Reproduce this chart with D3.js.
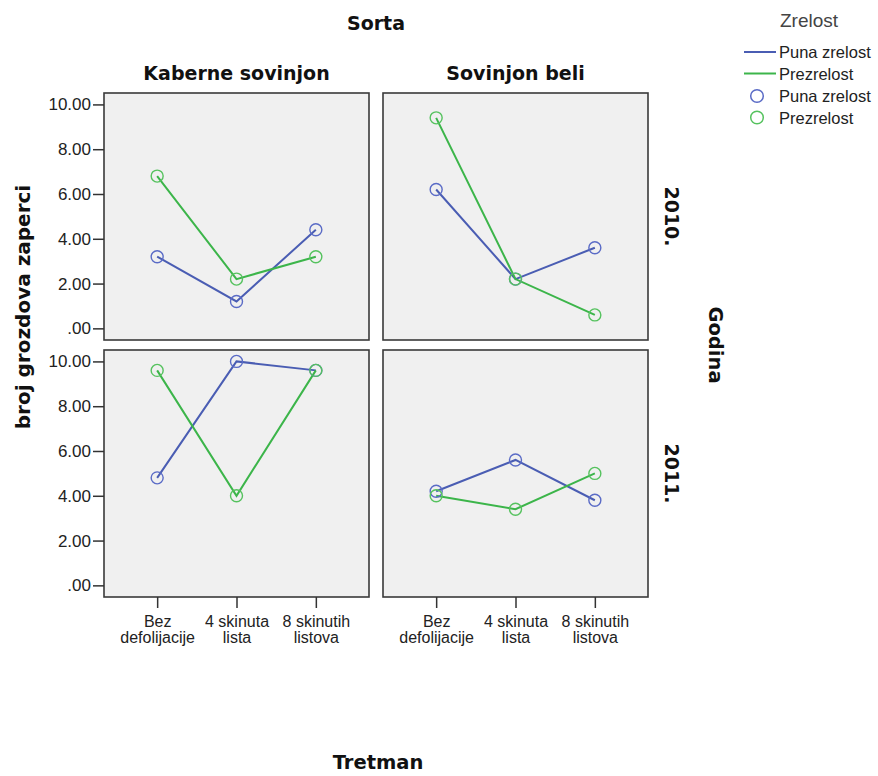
<!DOCTYPE html>
<html>
<head>
<meta charset="utf-8">
<script src="https://cdn.jsdelivr.net/npm/d3@7"></script>
<style>
  html, body { margin: 0; padding: 0; background: #ffffff; }
  svg { display: block; }
</style>
</head>
<body>
<svg id="chart" width="878" height="776"></svg>
<script>
// Treatments on the x axis, wrapped onto two lines
const treatments = ["Bez defolijacije", "4 skinuta lista", "8 skinutih listova"];
const treatmentLines = [["Bez", "defolijacije"], ["4 skinuta", "lista"], ["8 skinutih", "listova"]];
const varieties = ["Kaberne sovinjon", "Sovinjon beli"];
const years = ["2010.", "2011."];
const maturity = ["Puna zrelost", "Prezrelost"];
const yTicks = [0, 2, 4, 6, 8, 10];

// broj grozdova zaperci, per variety / year / maturity
const kabernePuna2010 = [3.2, 1.2, 4.4];
const kabernePrezrelost2010 = [6.8, 2.2, 3.2];
const sovinjonPuna2010 = [6.2, 2.2, 3.6];
const sovinjonPrezrelost2010 = [9.4, 2.2, 0.6];
const kabernePuna2011 = [4.8, 10.0, 9.6];
const kabernePrezrelost2011 = [9.6, 4.0, 9.6];
const sovinjonPuna2011 = [4.2, 5.6, 3.8];
const sovinjonPrezrelost2011 = [4.0, 3.4, 5.0];

const panels = [
  { row: 0, col: 0, series: [kabernePuna2010, kabernePrezrelost2010] },
  { row: 0, col: 1, series: [sovinjonPuna2010, sovinjonPrezrelost2010] },
  { row: 1, col: 0, series: [kabernePuna2011, kabernePrezrelost2011] },
  { row: 1, col: 1, series: [sovinjonPuna2011, sovinjonPrezrelost2011] }
];

const lineColors = ["#4a5db3", "#3cb54a"];
const markerColors = ["#5a6bc6", "#55c25e"];

const titleFont = "'DejaVu Sans', sans-serif";
const labelFont = "'Liberation Sans', Arial, sans-serif";

const svg = d3.select("#chart");

const panelX = [104, 383];
const panelY = [93, 350];
const panelW = 265;
const panelH = 247;

const x = d3.scalePoint().domain(treatments).range([0, panelW]).padding(0.67);
const y = d3.scaleLinear().domain([-0.52, 10.51]).range([panelH, 0]);

const line = d3.line()
  .x((d, i) => x(treatments[i]))
  .y(d => y(d));

panels.forEach(p => {
  const g = svg.append("g")
    .attr("transform", `translate(${panelX[p.col]},${panelY[p.row]})`);

  g.append("rect")
    .attr("x", 0).attr("y", 0)
    .attr("width", panelW).attr("height", panelH)
    .attr("fill", "#f0f0f0")
    .attr("stroke", "#3a3a3a")
    .attr("stroke-width", 1.6);

  p.series.forEach((vals, s) => {
    g.append("path")
      .datum(vals)
      .attr("d", line)
      .attr("fill", "none")
      .attr("stroke", lineColors[s])
      .attr("stroke-width", 2);
  });

  p.series.forEach((vals, s) => {
    g.selectAll(null)
      .data(vals)
      .enter()
      .append("circle")
      .attr("cx", (d, i) => x(treatments[i]))
      .attr("cy", d => y(d))
      .attr("r", 6)
      .attr("fill", "none")
      .attr("stroke", markerColors[s])
      .attr("stroke-width", 1.4);
  });

  // y axis on the left column
  if (p.col === 0) {
    const ax = g.append("g")
      .call(d3.axisLeft(y)
        .tickValues(yTicks)
        .tickSize(11)
        .tickPadding(2)
        .tickFormat(d => d === 0 ? ".00" : d.toFixed(2)));
    ax.select(".domain").remove();
    ax.selectAll(".tick line").attr("stroke", "#333").attr("stroke-width", 1.5);
    ax.selectAll(".tick text")
      .attr("font-family", labelFont)
      .attr("font-size", 17)
      .attr("fill", "#222");
  }

  // x axis on the bottom row, two-line category labels
  if (p.row === 1) {
    const ax = g.append("g")
      .attr("transform", `translate(0,${panelH})`)
      .call(d3.axisBottom(x).tickSize(11).tickFormat(""));
    ax.select(".domain").remove();
    ax.selectAll(".tick line").attr("stroke", "#333").attr("stroke-width", 1.5);
    ax.selectAll(".tick").each(function (d, i) {
      const tick = d3.select(this);
      treatmentLines[i].forEach((ln, k) => {
        tick.append("text")
          .attr("x", 0).attr("y", 30 + k * 16)
          .attr("text-anchor", "middle")
          .attr("font-family", labelFont)
          .attr("font-size", 16)
          .attr("fill", "#222")
          .text(ln);
      });
    });
  }
});

// Column headers
svg.append("text")
  .attr("x", 376).attr("y", 30)
  .attr("text-anchor", "middle")
  .attr("font-family", titleFont).attr("font-weight", "bold").attr("font-size", 19)
  .attr("fill", "#111")
  .text("Sorta");

varieties.forEach((v, i) => {
  svg.append("text")
    .attr("x", panelX[i] + panelW / 2).attr("y", 80)
    .attr("text-anchor", "middle")
    .attr("font-family", titleFont).attr("font-weight", "bold").attr("font-size", 19)
    .attr("fill", "#111")
    .text(v);
});

// Row headers, rotated clockwise
years.forEach((yr, i) => {
  const cy = panelY[i] + panelH / 2;
  svg.append("text")
    .attr("transform", `translate(665,${cy}) rotate(90)`)
    .attr("text-anchor", "middle")
    .attr("font-family", titleFont).attr("font-weight", "bold").attr("font-size", 19)
    .attr("fill", "#111")
    .text(yr);
});

svg.append("text")
  .attr("transform", `translate(709,${(panelY[0] + panelY[1] + panelH) / 2}) rotate(90)`)
  .attr("text-anchor", "middle")
  .attr("font-family", titleFont).attr("font-weight", "bold").attr("font-size", 19.5)
  .attr("fill", "#111")
  .text("Godina");

// Axis titles
svg.append("text")
  .attr("transform", "translate(30,307) rotate(-90)")
  .attr("text-anchor", "middle")
  .attr("font-family", titleFont).attr("font-weight", "bold").attr("font-size", 20)
  .attr("fill", "#111")
  .text("broj grozdova zaperci");

svg.append("text")
  .attr("x", 378).attr("y", 769)
  .attr("text-anchor", "middle")
  .attr("font-family", titleFont).attr("font-weight", "bold").attr("font-size", 19.5)
  .attr("fill", "#111")
  .text("Tretman");

// Legend
const legend = svg.append("g");
legend.append("text")
  .attr("x", 809).attr("y", 27)
  .attr("text-anchor", "middle")
  .attr("font-family", labelFont).attr("font-size", 19)
  .attr("fill", "#444")
  .text("Zrelost");

maturity.forEach((m, i) => {
  const ly = 52 + i * 21.5;
  legend.append("line")
    .attr("x1", 744).attr("x2", 776)
    .attr("y1", ly).attr("y2", ly)
    .attr("stroke", lineColors[i]).attr("stroke-width", 2);
  legend.append("text")
    .attr("x", 779).attr("y", ly + 6)
    .attr("font-family", labelFont).attr("font-size", 16.5)
    .attr("fill", "#222")
    .text(m);
});

maturity.forEach((m, i) => {
  const ly = 96 + i * 21.5;
  legend.append("circle")
    .attr("cx", 757).attr("cy", ly).attr("r", 6.3)
    .attr("fill", "none")
    .attr("stroke", markerColors[i]).attr("stroke-width", 1.5);
  legend.append("text")
    .attr("x", 779).attr("y", ly + 6)
    .attr("font-family", labelFont).attr("font-size", 16.5)
    .attr("fill", "#222")
    .text(m);
});
</script>
</body>
</html>
